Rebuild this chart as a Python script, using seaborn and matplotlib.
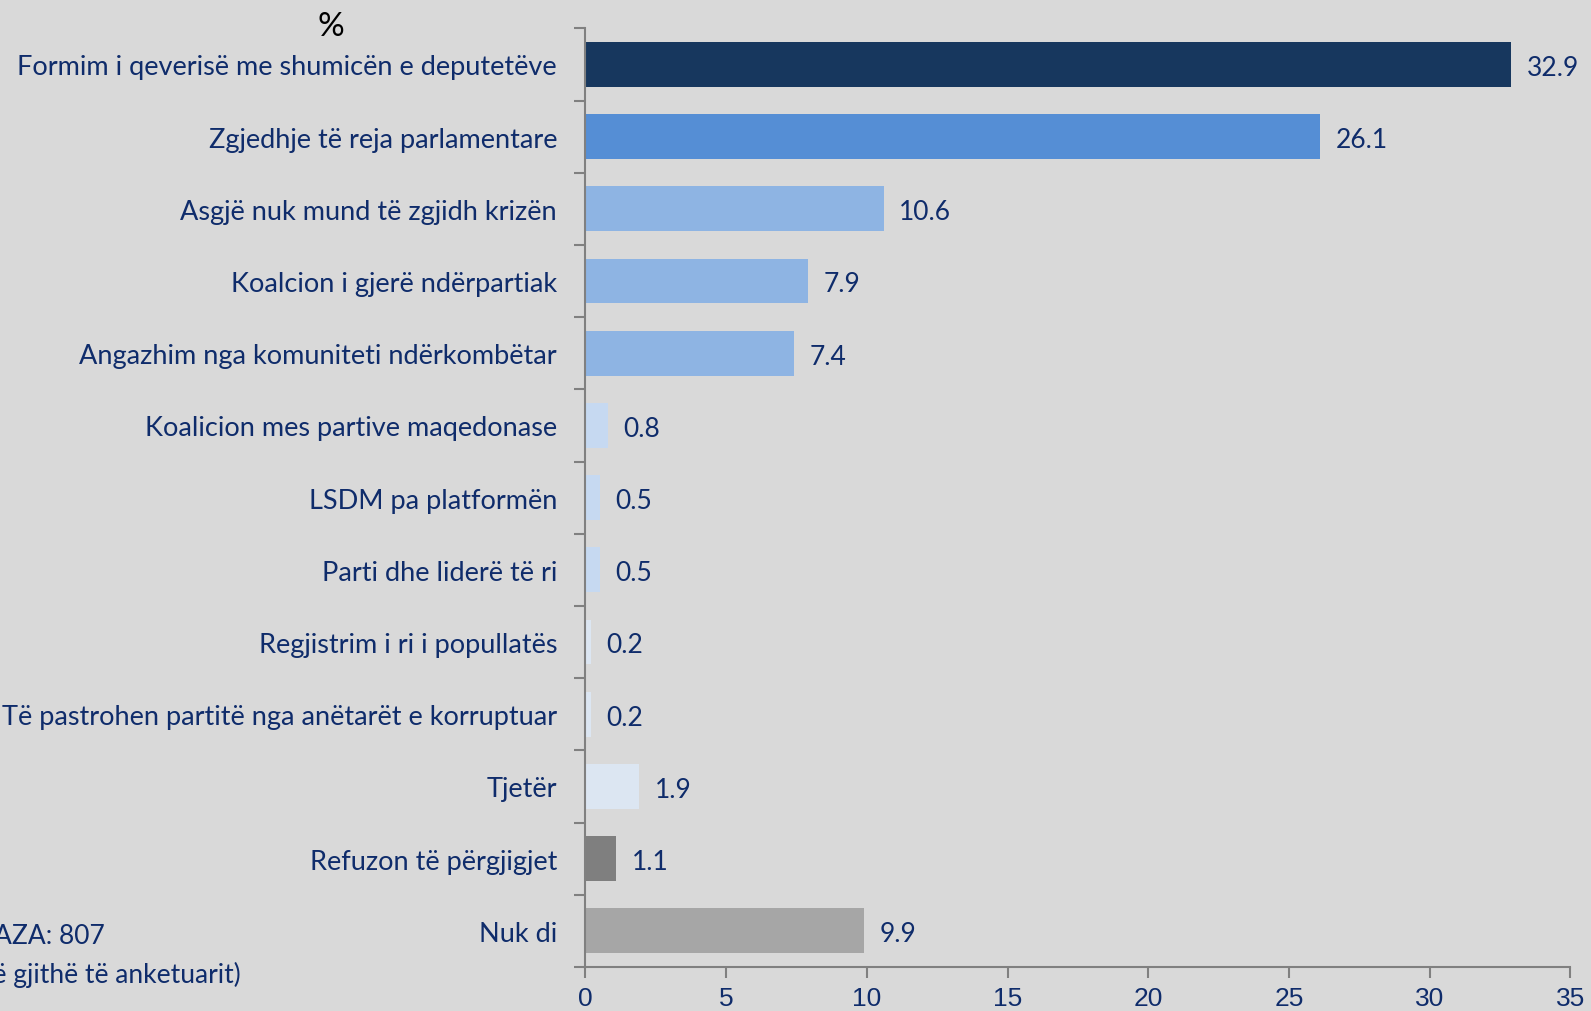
import matplotlib.pyplot as plt
import seaborn as sns
import pandas as pd
import numpy as np

categories = [
    "Formim i qeverisë me shumicën e deputetëve",
    "Zgjedhje të reja parlamentare",
    "Asgjë nuk mund të zgjidh krizën",
    "Koalcion i gjerë ndërpartiak",
    "Angazhim nga komuniteti ndërkombëtar",
    "Koalicion mes partive maqedonase",
    "LSDM pa platformën",
    "Parti dhe liderë të ri",
    "Regjistrim i ri i popullatës",
    "Të pastrohen partitë nga anëtarët e korruptuar",
    "Tjetër",
    "Refuzon të përgjigjet",
    "Nuk di",
]
values = [32.9, 26.1, 10.6, 7.9, 7.4, 0.8, 0.5, 0.5, 0.2, 0.2, 1.9, 1.1, 9.9]
bar_colors = ["#17375E", "#558ED5", "#8EB4E3", "#8EB4E3", "#8EB4E3",
              "#C6D9F1", "#C6D9F1", "#C6D9F1", "#DCE6F2", "#DCE6F2",
              "#DCE6F2", "#7F7F7F", "#A6A6A6"]
x_ticks = [0, 5, 10, 15, 20, 25, 30, 35]

NAVY = "#0F2C6B"
BG = "#D9D9D9"


def main():
    sns.set_theme(style="white", rc={"axes.facecolor": BG, "figure.facecolor": BG})
    plt.rcParams["font.family"] = ["Lato", "DejaVu Sans"]

    df = pd.DataFrame({"label": categories, "value": values})

    fig = plt.figure(figsize=(15.91, 10.12), dpi=100)
    ax = fig.add_axes([0.368, 0.0435, 0.619, 0.9275])

    sns.barplot(data=df, x="value", y="label", hue="label", palette=bar_colors,
                legend=False, width=0.62, saturation=1, linewidth=0,
                ax=ax, orient="h")

    ax.set_xlim(0, 35)
    ax.set_ylim(len(categories) - 0.5, -0.5)
    ax.set_xticks(x_ticks)
    ax.set_xticklabels([str(t) for t in x_ticks], family="Liberation Sans",
                       fontsize=19, color=NAVY)
    ax.set_yticks(range(len(categories)))
    ax.set_yticklabels(categories, fontsize=19.5, color=NAVY)
    ax.set_yticks(np.arange(-0.5, len(categories), 1), minor=True)
    ax.tick_params(axis="y", which="major", length=0, pad=20.5)
    ax.tick_params(axis="y", which="minor", length=8, width=1.5, color="#808080", left=True)
    ax.tick_params(axis="x", which="major", length=8, width=1.5, color="#808080",
                   bottom=True, pad=6)
    ax.set_xlabel("")
    ax.set_ylabel("")

    for s in ["top", "right"]:
        ax.spines[s].set_visible(False)
    for s in ["left", "bottom"]:
        ax.spines[s].set_color("#808080")
        ax.spines[s].set_linewidth(1.5)

    for i, v in enumerate(values):
        ax.text(v + 0.55, i + 0.04, f"{v:.1f}", va="center", ha="left",
                fontsize=19, color=NAVY)

    fig.text(331 / 1591, 1 - 27 / 1012, "%", ha="center", va="center",
             fontsize=24, color="black")
    fig.text(-0.0145, 1 - 937 / 1012, "BAZA: 807", ha="left", va="center",
             fontsize=19, color=NAVY)
    fig.text(-0.019, 1 - 975 / 1012, "(Të gjithë të anketuarit)", ha="left",
             va="center", fontsize=19, color=NAVY)

    plt.savefig("out.png", dpi=100, facecolor=BG)


if __name__ == "__main__":
    main()
